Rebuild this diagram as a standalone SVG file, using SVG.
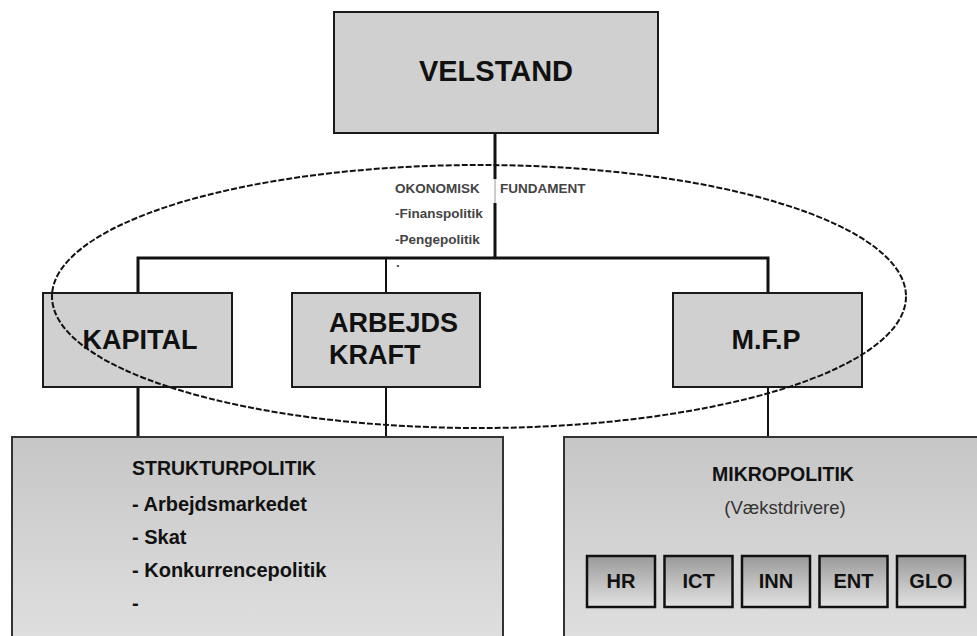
<svg xmlns="http://www.w3.org/2000/svg" width="977" height="636" viewBox="0 0 977 636">
<style>
  .box { fill: #d0d0d0; stroke: #1a1a1a; stroke-width: 2; }
  .big { fill: url(#bigGrad); stroke: #333; stroke-width: 2; }
  .small { fill: url(#smallGrad); stroke: #111; stroke-width: 2.5; }
  .conn { stroke: #111; stroke-width: 3; fill: none; }
  .t { font-family: "Liberation Sans", Arial, sans-serif; font-weight: bold; fill: #111; }
  .tiny { font-family: "Liberation Sans", Arial, sans-serif; font-weight: bold; font-size: 13.5px; fill: #444; }
</style>
<defs>
  <linearGradient id="bigGrad" x1="0" y1="0" x2="0" y2="1">
    <stop offset="0" stop-color="#c6c6c6"/>
    <stop offset="1" stop-color="#e0e0e0"/>
  </linearGradient>
  <linearGradient id="smallGrad" x1="0" y1="0" x2="0" y2="1">
    <stop offset="0" stop-color="#9a9a9a"/>
    <stop offset="1" stop-color="#e2e2e2"/>
  </linearGradient>
</defs>
<rect width="977" height="636" fill="#ffffff"/>

<g id="connectors">
  <line class="conn" x1="495" y1="133" x2="495" y2="179"/>
  <line x1="495" y1="179" x2="495" y2="203" stroke="#bbb" stroke-width="1.5"/>
  <line class="conn" x1="495" y1="203" x2="495" y2="258"/>
  <polyline class="conn" points="138,293 138,258 768,258 768,293"/>
  <line x1="386" y1="258" x2="386" y2="293" stroke="#111" stroke-width="2"/>
  <line class="conn" x1="138" y1="387" x2="138" y2="437"/>
  <line x1="386" y1="387" x2="386" y2="437" stroke="#111" stroke-width="2"/>
  <line x1="768" y1="387" x2="768" y2="437" stroke="#111" stroke-width="2"/>
</g>

<g id="velstand">
  <rect class="box" x="334" y="12" width="324" height="121"/>
  <text class="t" x="496" y="81" font-size="29" text-anchor="middle">VELSTAND</text>
</g>

<g id="kapital">
  <rect class="box" x="43" y="293" width="189" height="94"/>
  <text class="t" x="140" y="349" font-size="27" text-anchor="middle">KAPITAL</text>
</g>

<g id="arbejdskraft">
  <rect class="box" x="292" y="293" width="188" height="94"/>
  <text class="t" x="329" y="332" font-size="27">ARBEJDS</text>
  <text class="t" x="329" y="364" font-size="27">KRAFT</text>
</g>

<g id="mfp">
  <rect class="box" x="673" y="293" width="189" height="94"/>
  <text class="t" x="766" y="349" font-size="27" text-anchor="middle">M.F.P</text>
</g>

<g id="strukturpolitik">
  <rect class="big" x="12" y="437" width="491" height="210"/>
  <text class="t" x="132" y="475" font-size="19.5" fill="#222">STRUKTURPOLITIK</text>
  <text class="t" x="132" y="511" font-size="20">- Arbejdsmarkedet</text>
  <text class="t" x="132" y="544" font-size="20">- Skat</text>
  <text class="t" x="132" y="577" font-size="20">- Konkurrencepolitik</text>
  <text class="t" x="132" y="610" font-size="20">-</text>
</g>

<g id="mikropolitik">
  <rect class="big" x="564" y="437" width="425" height="210"/>
  <text class="t" x="783" y="481" font-size="19.5" text-anchor="middle" fill="#222">MIKROPOLITIK</text>
  <text x="785" y="514" font-family="Liberation Sans, Arial, sans-serif" font-size="18.5" text-anchor="middle" fill="#333">(Vækstdrivere)</text>
</g>

<g id="hr">
  <rect class="small" x="587" y="556" width="68" height="51"/>
  <text class="t" x="621" y="588" font-size="20" text-anchor="middle" fill="#222">HR</text>
</g>
<g id="ict">
  <rect class="small" x="664.5" y="556" width="68" height="51"/>
  <text class="t" x="698.5" y="588" font-size="20" text-anchor="middle" fill="#222">ICT</text>
</g>
<g id="inn">
  <rect class="small" x="742" y="556" width="68" height="51"/>
  <text class="t" x="776" y="588" font-size="20" text-anchor="middle" fill="#222">INN</text>
</g>
<g id="ent">
  <rect class="small" x="819.5" y="556" width="68" height="51"/>
  <text class="t" x="853.5" y="588" font-size="20" text-anchor="middle" fill="#222">ENT</text>
</g>
<g id="glo">
  <rect class="small" x="897" y="556" width="68" height="51"/>
  <text class="t" x="931" y="588" font-size="20" text-anchor="middle" fill="#222">GLO</text>
</g>

<g id="okonomisk-fundament">
  <ellipse cx="479" cy="296.5" rx="427" ry="131.5" fill="none" stroke="#111" stroke-width="2" stroke-dasharray="6 2"/>
  <text class="tiny" x="395" y="193">OKONOMISK</text>
  <text class="tiny" x="500" y="193">FUNDAMENT</text>
  <text class="tiny" x="395" y="218">-Finanspolitik</text>
  <text class="tiny" x="395" y="244">-Pengepolitik</text>
  <text class="tiny" x="396" y="270">·</text>
</g>
</svg>
